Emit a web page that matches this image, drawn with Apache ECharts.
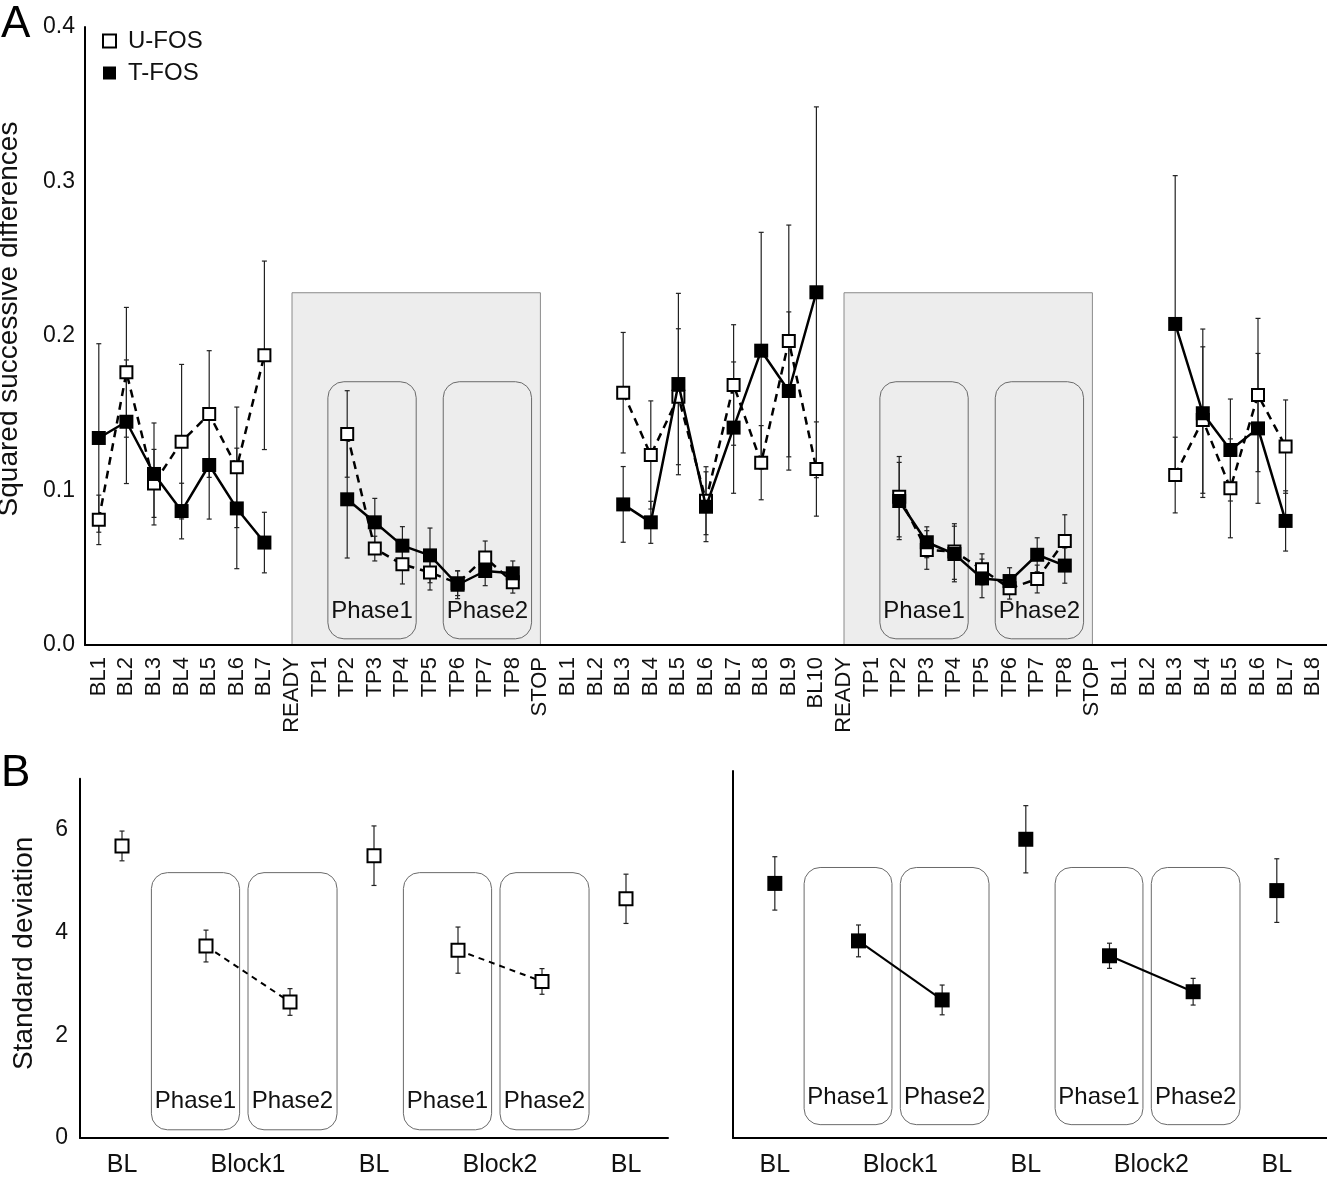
<!DOCTYPE html>
<html><head><meta charset="utf-8">
<script src="https://cdn.jsdelivr.net/npm/echarts@6/dist/echarts.min.js"></script>
<style>html,body{margin:0;padding:0;background:#fff}#c{width:1327px;height:1177px}</style>
</head><body><div id="c"></div>
<script>
// ---------------- DATA ----------------
const categoriesA = ['BL1','BL2','BL3','BL4','BL5','BL6','BL7','READY','TP1','TP2','TP3','TP4','TP5','TP6','TP7','TP8','STOP',
  'BL1','BL2','BL3','BL4','BL5','BL6','BL7','BL8','BL9','BL10','READY','TP1','TP2','TP3','TP4','TP5','TP6','TP7','TP8','STOP',
  'BL1','BL2','BL3','BL4','BL5','BL6','BL7','BL8'];
const uMeanA = [0.081,0.1765,0.1046,0.1316,0.1495,0.115,0.1875, null,null,0.1366,0.0624,0.0522,0.047,0.040,0.0566,0.0406, null,
  null,null,0.1633,0.123,0.1607,0.0934,0.1683,0.118,0.1968,0.1139, null,null,0.096,0.0615,0.0605,0.049,0.0367,0.0427,0.0673, null,
  null,null,0.110,0.1456,0.1014,0.1618,0.1284,null];
const uErrA = [0.016,0.042,0.022,0.050,0.041,0.039,0.061, null,null,0.028,0.008,0.0127,0.0114,0.008,0.0107,0.007, null,
  null,null,0.039,0.035,0.044,0.022,0.039,0.024,0.075,0.0305, null,null,0.026,0.0125,0.018,0.010,0.007,0.009,0.017, null,
  null,null,0.0245,0.0474,0.032,0.0496,0.0302,null];
const tMeanA = [0.134,0.1445,0.1107,0.0867,0.1165,0.0884,0.0663, null,null,0.0943,0.0794,0.0643,0.058,0.039,0.0479,0.0464, null,
  null,null,0.091,0.0794,0.1689,0.0895,0.1407,0.1905,0.1644,0.2283, null,null,0.0932,0.0665,0.0589,0.0431,0.0414,0.0584,0.0514, null,
  null,null,0.2078,0.150,0.1262,0.1402,0.0803,null];
const tErrA = [0.061,0.040,0.033,0.018,0.035,0.039,0.0196, null,null,0.038,0.0155,0.0123,0.0177,0.009,0.0095,0.008, null,
  null,null,0.0245,0.0136,0.0587,0.0226,0.0425,0.0766,0.0512,0.12, null,null,0.025,0.010,0.018,0.0125,0.0086,0.011,0.0114, null,
  null,null,0.096,0.0545,0.033,0.0485,0.0195,null];
const yTicksA = [0, 0.1, 0.2, 0.3, 0.4];

const conditionsB = ['BL','Phase1','Phase2','BL','Phase1','Phase2','BL'];
const blockNamesB = ['Block1','Block2'];
const uMeanB = [5.69,3.74,2.65,5.50,3.66,3.05,4.66];
const uErrB  = [0.29,0.31,0.26,0.58,0.45,0.25,0.48];
const tMeanB = [4.96,3.84,2.69,5.82,3.55,2.85,4.82];
const tErrB  = [0.52,0.31,0.29,0.655,0.245,0.26,0.62];
const yTicksB = [0, 2, 4, 6];

// ---------------- LAYOUT / STYLE CONSTANTS ----------------
const FF = '"Liberation Sans", Arial, Helvetica, sans-serif';
const INK = '#111';
const SHADE_TOP = 0.228;
const PH_BOX_A = [[1.3, 4.5], [5.48, 8.68]];   // offsets (in category bands) from READY
const PH_BOX_A_Y = [0.004, 0.1704];
const PH_LABEL_A_Y = 0.022;
const PH_BOX_B = [[0.35, 1.40], [1.50, 2.56]]; // offsets from the BL before each block
const PH_BOX_B_Y = [[0.16, 5.17], [0.26, 5.27]];
const PH_LABEL_B_Y = [0.71, 0.80];

// build derived structures
const readyIdx = [], stopIdx = [];
categoriesA.forEach((c, i) => { if (c === 'READY') readyIdx.push(i); if (c === 'STOP') stopIdx.push(i); });
const shadeData = readyIdx.map((r, k) => [r, stopIdx[k], 0, SHADE_TOP]);
// [baseIndex, off0, off1, y0, y1, labelY, phaseIdx]
const boxDataA = [];
readyIdx.forEach(r => PH_BOX_A.forEach((b, j) => boxDataA.push([r, b[0], b[1], PH_BOX_A_Y[0], PH_BOX_A_Y[1], PH_LABEL_A_Y, j])));
const phaseNames = ['Phase1', 'Phase2'];

function errData(means, errs) {
  const out = [];
  means.forEach((m, i) => { if (m != null) out.push([i, m, errs[i]]); });
  return out;
}
const blockStarts = [];
conditionsB.forEach((c, i) => { if (c === 'Phase1') blockStarts.push(i); });
function boxDataB(panel) {
  const out = [];
  blockStarts.forEach(s => PH_BOX_B.forEach((b, j) => out.push([s - 1, b[0], b[1], PH_BOX_B_Y[panel][0], PH_BOX_B_Y[panel][1], PH_LABEL_B_Y[panel], j])));
  return out;
}
const xLabelB = {};
conditionsB.forEach((c, i) => { if (c === 'BL') xLabelB[i] = 'BL'; });
blockStarts.forEach((s, k) => { xLabelB[s + 0.5] = blockNamesB[k]; });

function pointsB(means) { return means.map((m, i) => [i, m]); }
function pairLines(means) { return blockStarts.map(s => [[s, means[s]], [s + 1, means[s + 1]]]); }

// ---------------- RENDERERS ----------------
function renderShade(params, api) {
  const p0 = api.coord([api.value(0), api.value(3)]);
  const p1 = api.coord([api.value(1), api.value(2)]);
  return { type: 'rect', shape: { x: p0[0], y: p0[1], width: p1[0] - p0[0], height: p1[1] - p0[1] },
    style: { fill: '#ededed', stroke: '#8a8a8a', lineWidth: 1 } };
}
function renderBox(fontSize) {
  return function (params, api) {
    const base = api.value(0);
    const band = api.coord([base + 1, 0])[0] - api.coord([base, 0])[0];
    const bx = api.coord([base, api.value(4)]);
    const by = api.coord([base, api.value(3)]);
    const ly = api.coord([base, api.value(5)])[1];
    const x0 = bx[0] + api.value(1) * band, x1 = bx[0] + api.value(2) * band;
    return { type: 'group', children: [
      { type: 'rect', shape: { x: x0, y: bx[1], width: x1 - x0, height: by[1] - bx[1], r: 16 },
        style: { fill: 'none', stroke: '#6a6a6a', lineWidth: 1 } },
      { type: 'text', style: { text: phaseNames[api.value(6)], x: (x0 + x1) / 2, y: ly, align: 'center', verticalAlign: 'middle',
        font: fontSize + 'px ' + FF, fill: INK } }
    ] };
  };
}
function renderErr(params, api) {
  const x = api.value(0), m = api.value(1), e = api.value(2);
  const top = api.coord([x, m + e]), bot = api.coord([x, m - e]);
  const st = { stroke: '#222', lineWidth: 1.2 };
  return { type: 'group', children: [
    { type: 'line', shape: { x1: top[0], y1: top[1], x2: bot[0], y2: bot[1] }, style: st },
    { type: 'line', shape: { x1: top[0] - 2.5, y1: top[1], x2: top[0] + 2.5, y2: top[1] }, style: st },
    { type: 'line', shape: { x1: bot[0] - 2.5, y1: bot[1], x2: bot[0] + 2.5, y2: bot[1] }, style: st }
  ] };
}

const uSym = { color: '#fff', borderColor: '#000', borderWidth: 2, opacity: 1 };
const tSym = { color: '#000', borderColor: '#000', borderWidth: 0, opacity: 1 };

// ---------------- OPTION ----------------
const chart = echarts.init(document.getElementById('c'), null, { renderer: 'canvas' });
const boxEncode = { x: 0, y: [3, 4] };
const series = [
  { type: 'custom', xAxisIndex: 0, yAxisIndex: 0, data: shadeData, renderItem: renderShade, z: 0, silent: true,
    encode: { x: [0, 1], y: [2, 3] } },
  { type: 'custom', xAxisIndex: 0, yAxisIndex: 0, data: boxDataA, renderItem: renderBox(24), z: 1, silent: true, encode: boxEncode },
  { type: 'custom', xAxisIndex: 0, yAxisIndex: 0, data: errData(uMeanA, uErrA), renderItem: renderErr, z: 2, silent: true, encode: { x: 0, y: 1 } },
  { type: 'custom', xAxisIndex: 0, yAxisIndex: 0, data: errData(tMeanA, tErrA), renderItem: renderErr, z: 2, silent: true, encode: { x: 0, y: 1 } },
  { name: 'U-FOS', type: 'line', xAxisIndex: 0, yAxisIndex: 0, data: uMeanA, connectNulls: false, z: 3,
    symbol: 'rect', symbolSize: 12, showSymbol: true, showAllSymbol: true, itemStyle: uSym,
    lineStyle: { color: '#000', width: 2.5, type: [8, 6] }, emphasis: { disabled: true } },
  { name: 'T-FOS', type: 'line', xAxisIndex: 0, yAxisIndex: 0, data: tMeanA, connectNulls: false, z: 4,
    symbol: 'rect', symbolSize: 14, showSymbol: true, showAllSymbol: true, itemStyle: tSym,
    lineStyle: { color: '#000', width: 2.5 }, emphasis: { disabled: true } },

  // Panel B left (U-FOS)
  { type: 'custom', xAxisIndex: 1, yAxisIndex: 1, data: boxDataB(0), renderItem: renderBox(24), z: 1, silent: true, encode: boxEncode },
  { type: 'custom', xAxisIndex: 1, yAxisIndex: 1, data: uMeanB.map((m, i) => [i, m, uErrB[i]]), renderItem: renderErr, z: 2, silent: true, encode: { x: 0, y: 1 } },
  // Panel B right (T-FOS)
  { type: 'custom', xAxisIndex: 2, yAxisIndex: 2, data: boxDataB(1), renderItem: renderBox(24), z: 1, silent: true, encode: boxEncode },
  { type: 'custom', xAxisIndex: 2, yAxisIndex: 2, data: tMeanB.map((m, i) => [i, m, tErrB[i]]), renderItem: renderErr, z: 2, silent: true, encode: { x: 0, y: 1 } },
];
pairLines(uMeanB).forEach(seg => series.push({ name: 'U-FOS', type: 'line', xAxisIndex: 1, yAxisIndex: 1, data: seg, showSymbol: false, z: 3,
  lineStyle: { color: '#000', width: 2, type: [6, 5] }, emphasis: { disabled: true } }));
pairLines(tMeanB).forEach(seg => series.push({ name: 'T-FOS', type: 'line', xAxisIndex: 2, yAxisIndex: 2, data: seg, showSymbol: false, z: 3,
  lineStyle: { color: '#000', width: 2 }, emphasis: { disabled: true } }));
series.push({ name: 'U-FOS', type: 'scatter', xAxisIndex: 1, yAxisIndex: 1, data: pointsB(uMeanB), symbol: 'rect', symbolSize: 13, itemStyle: uSym, z: 5, emphasis: { disabled: true } });
series.push({ name: 'T-FOS', type: 'scatter', xAxisIndex: 2, yAxisIndex: 2, data: pointsB(tMeanB), symbol: 'rect', symbolSize: 15, itemStyle: tSym, z: 5, emphasis: { disabled: true } });

const axisLineStyle = { show: true, onZero: false, lineStyle: { color: '#000', width: 2 } };
const option = {
  animation: false,
  backgroundColor: '#fff',
  textStyle: { fontFamily: FF, color: INK },
  grid: [
    { left: 85, right: 0, top: 27, height: 618, outerBoundsMode: 'none' },
    { left: 80, width: 588, top: 778.7, height: 359.3, outerBoundsMode: 'none' },
    { left: 733, width: 594, top: 771, height: 367, outerBoundsMode: 'none' }
  ],
  legend: {
    left: 97, top: 24, orient: 'vertical', itemWidth: 13, itemHeight: 13, itemGap: 8,
    textStyle: { fontSize: 24, color: INK, fontFamily: FF, padding: [0, 0, 0, 7] },
    selectedMode: false,
    data: [
      { name: 'U-FOS', icon: 'rect', itemStyle: { color: '#fff', borderColor: '#000', borderWidth: 2 } },
      { name: 'T-FOS', icon: 'rect', itemStyle: { color: '#000', borderWidth: 0 } }
    ]
  },
  xAxis: [
    { type: 'category', gridIndex: 0, data: categoriesA, boundaryGap: true, axisLine: axisLineStyle, axisTick: { show: false },
      splitLine: { show: false },
      axisLabel: { interval: 0, rotate: 90, fontSize: 22, color: INK, margin: 12, fontFamily: FF, hideOverlap: false } },
    { type: 'value', gridIndex: 1, min: -0.5, max: 6.5, interval: 0.5, axisLine: axisLineStyle, axisTick: { show: false },
      splitLine: { show: false },
      axisLabel: { fontSize: 25, color: INK, margin: 15, fontFamily: FF, showMinLabel: true, showMaxLabel: true, hideOverlap: false,
        formatter: v => (xLabelB[v] !== undefined ? xLabelB[v] : '') } },
    { type: 'value', gridIndex: 2, min: -0.5, max: 6.6, interval: 0.5, axisLine: axisLineStyle, axisTick: { show: false },
      splitLine: { show: false },
      axisLabel: { fontSize: 25, color: INK, margin: 15, fontFamily: FF, showMinLabel: true, showMaxLabel: true, hideOverlap: false,
        formatter: v => (xLabelB[v] !== undefined ? xLabelB[v] : '') } }
  ],
  yAxis: [
    { type: 'value', gridIndex: 0, min: yTicksA[0], max: yTicksA[yTicksA.length - 1], interval: 0.1,
      name: 'Squared successive differences', nameLocation: 'middle', nameGap: 62,
      nameTextStyle: { fontSize: 28, color: INK, fontFamily: FF, padding: [0, 0, 0, 34] },
      axisLine: axisLineStyle, axisTick: { show: false }, splitLine: { show: false },
      axisLabel: { fontSize: 23, color: INK, margin: 10, fontFamily: FF, formatter: v => v.toFixed(1) } },
    { type: 'value', gridIndex: 1, min: 0, max: 7, interval: 2,
      name: 'Standard deviation', nameLocation: 'middle', nameGap: 42,
      nameTextStyle: { fontSize: 28, color: INK, fontFamily: FF, padding: [0, 0, 0, 10] },
      axisLine: axisLineStyle, axisTick: { show: false }, splitLine: { show: false },
      axisLabel: { fontSize: 23, color: INK, margin: 12, fontFamily: FF,
        formatter: v => (yTicksB.indexOf(v) >= 0 ? String(v) : '') } },
    { type: 'value', gridIndex: 2, min: 0, max: 7.15, interval: 2,
      axisLine: axisLineStyle, axisTick: { show: false }, splitLine: { show: false }, axisLabel: { show: false } }
  ],
  graphic: [
    { type: 'text', left: 1, top: 3, style: { text: 'A', font: '44px ' + FF, fill: '#000' } },
    { type: 'text', left: 1, top: 752, style: { text: 'B', font: '44px ' + FF, fill: '#000' } }
  ],
  series: series
};
chart.setOption(option);
</script></body></html>
